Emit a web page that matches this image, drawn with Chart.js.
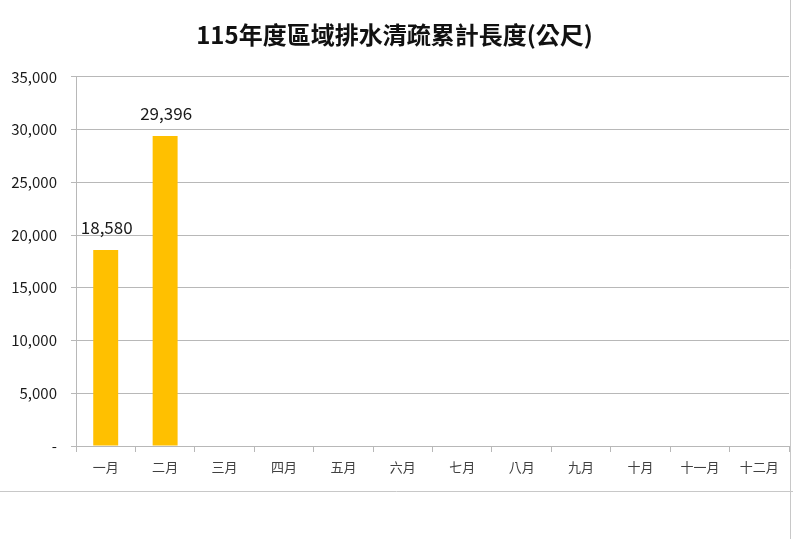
<!DOCTYPE html>
<html>
<head>
<meta charset="utf-8">
<script src="https://cdn.jsdelivr.net/npm/chart.js@4"></script>
<style>
  html, body { margin: 0; padding: 0; background: #fff; }
  #wrap { width: 793px; height: 539px; position: relative; }
</style>
</head>
<body>
<div id="wrap"><canvas id="chart" width="793" height="539"></canvas></div>
<script>
const titleText = "115年度區域排水清疏累計長度(公尺)";
const months = ["一月", "二月", "三月", "四月", "五月", "六月", "七月", "八月", "九月", "十月", "十一月", "十二月"];
const lengths = [18580, 29396, null, null, null, null, null, null, null, null, null, null];
const yTicks = [0, 5000, 10000, 15000, 20000, 25000, 30000, 35000];

const FONT = "'Noto Sans CJK TC', 'Noto Sans', sans-serif";

// value labels above the bars
const valueLabels = {
  id: "valueLabels",
  afterDatasetsDraw(chart) {
    const ctx = chart.ctx;
    const meta = chart.getDatasetMeta(0);
    ctx.save();
    ctx.font = "17px " + FONT;
    ctx.fillStyle = "#1a1a1a";
    ctx.textAlign = "center";
    ctx.textBaseline = "middle";
    meta.data.forEach((bar, i) => {
      const v = lengths[i];
      if (v == null) return;
      ctx.fillText(v.toLocaleString("en-US"), bar.x + 1, bar.y - 22);
    });
    ctx.restore();
  }
};

// frame lines of the original screenshot
const frame = {
  id: "frame",
  afterDraw(chart) {
    const ctx = chart.ctx;
    ctx.save();
    ctx.strokeStyle = "#c8c8c8";
    ctx.lineWidth = 1;
    ctx.beginPath();
    ctx.moveTo(0, 491.5);
    ctx.lineTo(793, 491.5);
    ctx.moveTo(790.5, 0);
    ctx.lineTo(790.5, 539);
    ctx.stroke();
    ctx.restore();
  }
};

new Chart(document.getElementById("chart"), {
  type: "bar",
  data: {
    labels: months,
    datasets: [{
      data: lengths,
      backgroundColor: "#FFC000",
      categoryPercentage: 1,
      barPercentage: 0.42
    }]
  },
  options: {
    responsive: false,
    animation: false,
    events: [],
    layout: { padding: { left: 0, right: 4, top: 0, bottom: 0 } },
    plugins: {
      legend: { display: false },
      tooltip: { enabled: false },
      title: {
        display: true,
        text: titleText,
        color: "#111",
        font: { family: FONT, size: 24, weight: "bold" },
        padding: { top: 20, bottom: 28 }
      }
    },
    scales: {
      x: {
        offset: true,
        grid: {
          display: true,
          drawOnChartArea: false,
          drawTicks: true,
          tickLength: 6,
          color: "#b8b8b8",
          offset: true
        },
        border: { display: true, color: "#b8b8b8" },
        ticks: {
          color: "#404040",
          font: { family: FONT, size: 13 },
          padding: 7,
          maxRotation: 0,
          autoSkip: false
        },
        afterFit(s) { s.height = 93; }
      },
      y: {
        min: 0,
        max: 35000,
        afterBuildTicks(s) { s.ticks = yTicks.map(v => ({ value: v })); },
        grid: {
          color: "#b8b8b8",
          lineWidth: 1,
          tickLength: 5
        },
        border: { display: true, color: "#b8b8b8" },
        ticks: {
          color: "#1a1a1a",
          font: { family: FONT, size: 15 },
          padding: 14,
          callback(v) { return v === 0 ? "-" : v.toLocaleString("en-US"); }
        },
        afterFit(s) { s.width = 76; }
      }
    }
  },
  plugins: [valueLabels, frame]
});
</script>
</body>
</html>
